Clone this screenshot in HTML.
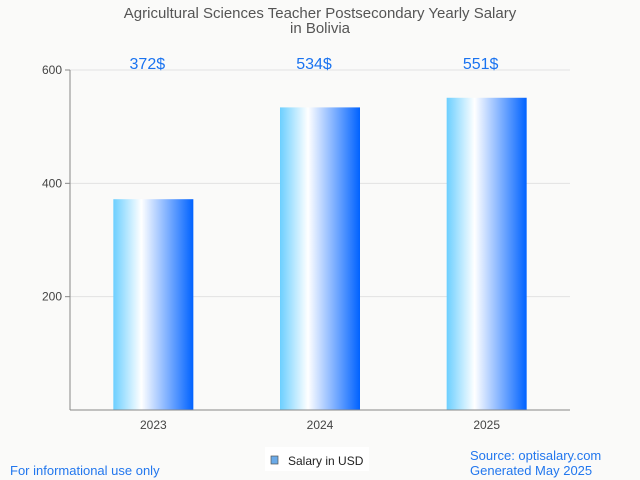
<!DOCTYPE html>
<html><head><meta charset="utf-8"><style>
body{margin:0;background:#fafafa;font-family:"Liberation Sans",sans-serif;}
svg{display:block}
</style></head><body>
<svg id="chart" width="640" height="480" xmlns="http://www.w3.org/2000/svg">
<defs><linearGradient id="g" x1="0" x2="1" y1="0" y2="0">
<stop offset="0" stop-color="#6ccfff"/><stop offset="0.35" stop-color="#ffffff"/><stop offset="1" stop-color="#0062ff"/>
</linearGradient></defs>
<rect width="640" height="480" fill="#fafaf9"/>
<text x="320" y="18" text-anchor="middle" font-size="15" fill="#555">Agricultural Sciences Teacher Postsecondary Yearly Salary</text>
<text x="320" y="33" text-anchor="middle" font-size="15" fill="#555">in Bolivia</text>
<g id="grid"></g><g id="bars"></g>
<line x1="70" y1="70" x2="70" y2="410" stroke="#888"/>
<line x1="70" y1="410" x2="570" y2="410" stroke="#888"/>
<rect x="265" y="447" width="104" height="24" fill="#fff"/>
<rect x="271" y="456" width="7" height="8" fill="#6aaae8" stroke="#555" stroke-width="0.7"/>
<text x="288" y="465" font-size="12" fill="#222">Salary in USD</text>
<text x="10" y="475" font-size="13" fill="#2277ee">For informational use only</text>
<text x="470" y="460" font-size="13" fill="#2277ee">Source: optisalary.com</text>
<text x="470" y="475" font-size="13" fill="#2277ee">Generated May 2025</text>
</svg>
<script>
const categories=["2023","2024","2025"];
const values=[372,534,551];
const labels=["372$","534$","551$"];
const yTicks=[200,400,600];
const ns="http://www.w3.org/2000/svg";
const x0=70,x1=570,yBot=410,yTop=70,yMax=600;
function y(v){return yBot-(v/yMax)*(yBot-yTop);}
function xc(i){return x0+(x1-x0)/categories.length*(i+0.5);}
function mk(tag,attrs,parent,txt){const e=document.createElementNS(ns,tag);for(const k in attrs)e.setAttribute(k,attrs[k]);if(txt!==undefined)e.textContent=txt;parent.appendChild(e);return e;}
const grid=document.getElementById('grid'),bars=document.getElementById('bars');
yTicks.forEach(t=>{
  const l=mk('line',{x1:x0,x2:x1,y1:y(t),y2:y(t),stroke:'#e2e2e2'},grid);
  
  
  const tk=mk('line',{x1:x0-5,x2:x0,y1:y(t),y2:y(t),stroke:'#888'},grid);
  
  
  const tx=mk('text',{x:x0-8,y:y(t)+4,'text-anchor':'end','font-size':12,fill:'#444'},grid,String(t));
  
  
});
categories.forEach((c,i)=>{
  const bw=80,cx=xc(i);
  const r=mk('rect',{x:cx-bw/2,y:y(values[i]),width:bw,height:yBot-y(values[i]),fill:'url(#g)'},bars);
  
  
  const v=mk('text',{x:cx-6,y:69,'text-anchor':'middle','font-size':16,fill:'#1a73f0'},bars,labels[i]);
  
  
  const xl=mk('text',{x:cx,y:429,'text-anchor':'middle','font-size':12,fill:'#444'},bars,c);
  
  
});
</script>
</body></html>
